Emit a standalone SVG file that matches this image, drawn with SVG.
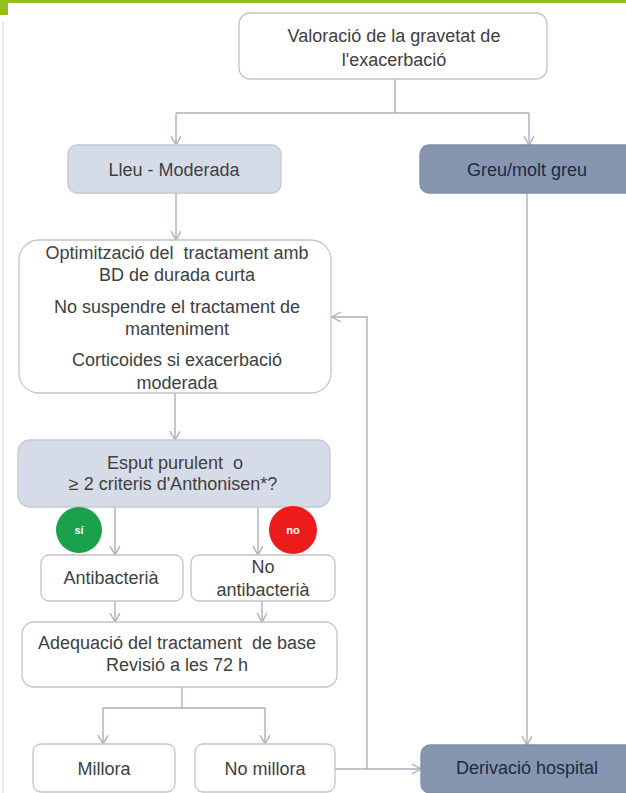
<svg xmlns="http://www.w3.org/2000/svg" width="626" height="793" viewBox="0 0 626 793">
<style>
.box{fill:#ffffff;stroke:#c4c4c4;stroke-width:1.3}
.lt{fill:#d6dce7;stroke:#c2c8d2;stroke-width:1.3}
.dk{fill:#8696b0;stroke:#7f8fa8;stroke-width:1.3}
.t{font-family:"Liberation Sans",Arial,sans-serif;font-size:18px;fill:#404040;text-anchor:middle}
.td{fill:#1f2a40}
.c{fill:none;stroke:#a8b0bc;stroke-width:1.4}
.ct{font-family:"Liberation Sans",Arial,sans-serif;font-size:11px;font-weight:bold;fill:#ffffff;text-anchor:middle}
</style>
<defs>
<marker id="ah" markerUnits="userSpaceOnUse" markerWidth="12" markerHeight="12" refX="9" refY="5" orient="auto">
<path d="M0,0 L9,5 L0,10" fill="none" stroke="#a8b0bc" stroke-width="1.4"/>
</marker>
</defs>
<rect width="626" height="793" fill="#ffffff"/>
<rect x="0" y="0" width="626" height="3" fill="#93c01f"/>
<rect x="0" y="0" width="8" height="15" fill="#93c01f"/>
<line x1="3" y1="22" x2="3" y2="793" stroke="#e8e8e8" stroke-width="2"/>

<g id="connectors">
<path class="c" d="M395,79 V113"/>
<path class="c" d="M176,113 H529"/>
<path class="c" d="M176,113 V145" marker-end="url(#ah)"/>
<path class="c" d="M529,113 V145" marker-end="url(#ah)"/>
<path class="c" d="M176,193 V240" marker-end="url(#ah)"/>
<path class="c" d="M527,193 V745" marker-end="url(#ah)"/>
<path class="c" d="M175,393 V440" marker-end="url(#ah)"/>
<path class="c" d="M115,507 V555" marker-end="url(#ah)"/>
<path class="c" d="M258,507 V555" marker-end="url(#ah)"/>
<path class="c" d="M115,601 V622" marker-end="url(#ah)"/>
<path class="c" d="M262,601 V622" marker-end="url(#ah)"/>
<path class="c" d="M182,687 V708"/>
<path class="c" d="M103,708 H265"/>
<path class="c" d="M103,708 V744" marker-end="url(#ah)"/>
<path class="c" d="M265,708 V744" marker-end="url(#ah)"/>
<path class="c" d="M335,769 H421" marker-end="url(#ah)"/>
<path class="c" d="M367,769 V317 H332" marker-end="url(#ah)"/>
</g>

<g id="valoracio">
<rect class="box" x="239" y="13" width="308" height="66" rx="11"/>
<text class="t" x="394" y="42">Valoració de la gravetat de</text>
<text class="t" x="394" y="66">l'exacerbació</text>
</g>
<g id="lleu">
<rect class="lt" x="68" y="145" width="213" height="48" rx="9"/>
<text class="t" x="174" y="176">Lleu - Moderada</text>
</g>
<g id="greu">
<rect class="dk" x="420" y="145" width="220" height="48" rx="9"/>
<text class="t td" x="527" y="176">Greu/molt greu</text>
</g>
<g id="optimitzacio">
<rect class="box" x="19" y="240" width="312" height="153" rx="20"/>
<text class="t" x="177" y="259">Optimització del&#160; tractament amb</text>
<text class="t" x="177" y="281">BD de durada curta</text>
<text class="t" x="177" y="313">No suspendre el tractament de</text>
<text class="t" x="177" y="335">manteniment</text>
<text class="t" x="177" y="366">Corticoides si exacerbació</text>
<text class="t" x="177" y="389">moderada</text>
</g>
<g id="esput">
<rect class="lt" x="18" y="440" width="312" height="67" rx="12"/>
<text class="t" x="175" y="469">Esput purulent&#160; o</text>
<text class="t" x="173" y="490">≥ 2 criteris d'Anthonisen*?</text>
</g>
<g id="si">
<circle cx="79" cy="530" r="23" fill="#1ba14b"/>
<text class="ct" x="79" y="534">sí</text>
</g>
<g id="no">
<circle cx="293" cy="530" r="24" fill="#ec1c1c"/>
<text class="ct" x="293" y="534">no</text>
</g>
<g id="antibacteria">
<rect class="box" x="41" y="555" width="142" height="46" rx="8"/>
<text class="t" x="111" y="584">Antibacterià</text>
</g>
<g id="noantibacteria">
<rect class="box" x="191" y="555" width="144" height="46" rx="8"/>
<text class="t" x="263" y="573">No</text>
<text class="t" x="263" y="596">antibacterià</text>
</g>
<g id="adequacio">
<rect class="box" x="22" y="622" width="315" height="65" rx="12"/>
<text class="t" x="177" y="649">Adequació del tractament&#160; de base</text>
<text class="t" x="177" y="671">Revisió a les 72 h</text>
</g>
<g id="millora">
<rect class="box" x="33" y="744" width="142" height="48" rx="8"/>
<text class="t" x="104" y="775">Millora</text>
</g>
<g id="nomillora">
<rect class="box" x="195" y="744" width="140" height="48" rx="8"/>
<text class="t" x="265" y="775">No millora</text>
</g>
<g id="derivacio">
<rect class="dk" x="421" y="745" width="219" height="48" rx="9"/>
<text class="t td" x="527" y="774">Derivació hospital</text>
</g>
</svg>
